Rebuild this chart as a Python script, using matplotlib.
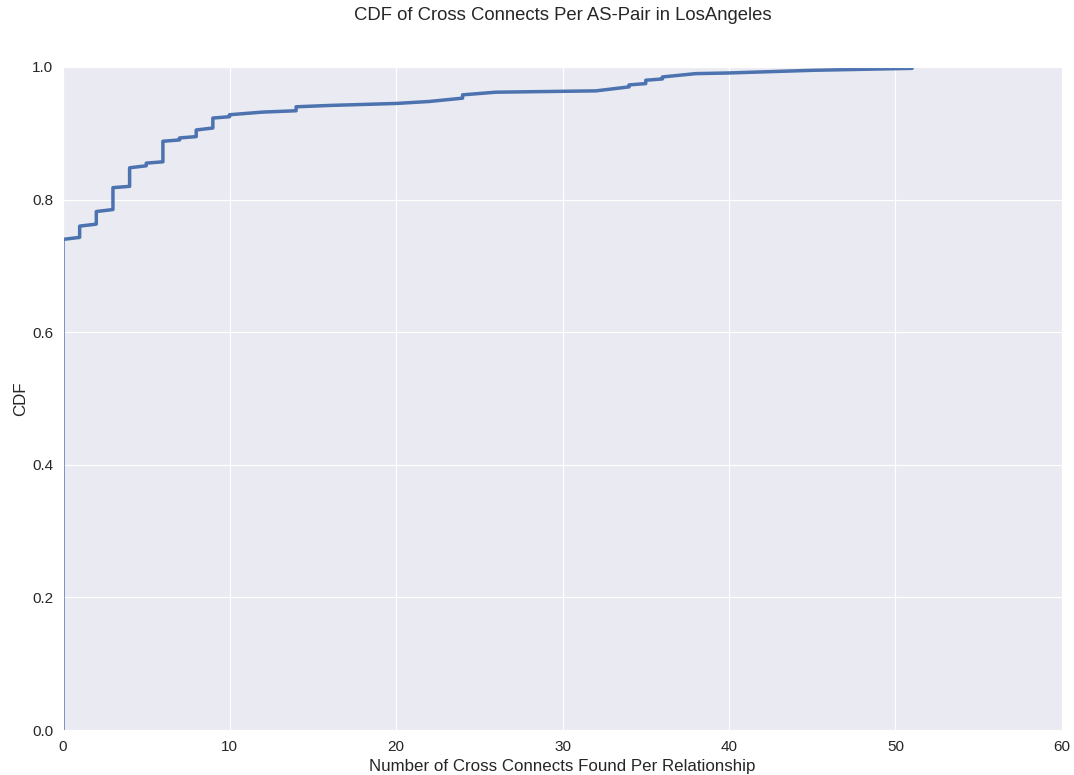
import matplotlib
matplotlib.use("Agg")
import matplotlib.pyplot as plt
import seaborn as sns

# corner points of the CDF line
cc_counts = [0, 0, 1, 1, 2, 2, 3, 3, 4, 4, 5, 5, 6, 6, 7, 7, 8, 8, 9, 9,
             10, 10, 12, 14, 14, 16, 20, 22, 24, 24, 26, 32, 34, 34,
             35, 35, 36, 36, 38, 40, 45, 51]
cdf_vals = [0.0, 0.740, 0.743, 0.760, 0.763, 0.782, 0.785, 0.818, 0.820, 0.848,
            0.851, 0.855, 0.857, 0.888, 0.890, 0.893, 0.895, 0.905, 0.908, 0.923,
            0.925, 0.928, 0.932, 0.934, 0.940, 0.942, 0.945, 0.948, 0.953, 0.958,
            0.962, 0.964, 0.970, 0.973, 0.975, 0.980, 0.982, 0.985, 0.990, 0.991,
            0.995, 0.998]

sns.set_style("darkgrid")
plt.rcParams['font.family'] = ['Liberation Sans', 'DejaVu Sans']

fig = plt.figure(figsize=(10.74, 7.75), dpi=100)
ax = fig.add_axes([63/1074, 1 - 730/775, (1062-63)/1074, (730-67)/775])
ax.plot(cc_counts, cdf_vals, color='#4c72b0', linewidth=2.5)

ax.set_xlim(0, 60)
ax.set_ylim(0, 1.0)
ax.set_xticks(range(0, 61, 10))
ax.set_yticks([0.0, 0.2, 0.4, 0.6, 0.8, 1.0])
ax.tick_params(labelsize=11, colors='#262626', length=0, pad=7)
ax.set_xlabel("Number of Cross Connects Found Per Relationship", fontsize=12.2, color='#262626', labelpad=4)
ax.set_ylabel("CDF", fontsize=12.2, color='#262626', labelpad=3)
# title centred over the axes
fig.suptitle("CDF of Cross Connects Per AS-Pair in LosAngeles", fontsize=13.3, color='#262626',
             x=562.5/1074, y=1 - 16/775, va='center')

fig.savefig("out.png", dpi=100)
